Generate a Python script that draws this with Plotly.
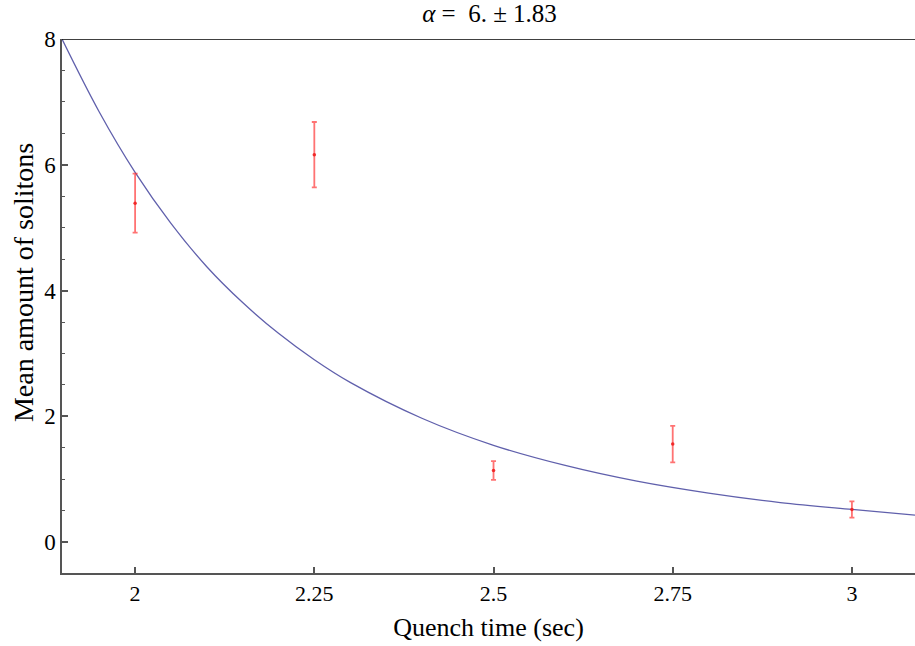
import plotly.graph_objects as go

# Measured data (mean amount of solitons vs quench time)
quench_time = [2.0, 2.25, 2.5, 2.75, 3.0]
mean_solitons = [5.39, 6.16, 1.14, 1.56, 0.52]
err_plus = [0.47, 0.52, 0.15, 0.29, 0.13]

# Fitted curve, values
fit_x = [1.898, 1.95, 2.0, 2.05, 2.1, 2.15, 2.2, 2.25, 2.3, 2.4, 2.5, 2.6, 2.7, 2.8, 2.9, 3.0, 3.088]
fit_y = [8.0, 6.84, 5.88, 5.07, 4.38, 3.81, 3.32, 2.90, 2.54, 1.97, 1.54, 1.22, 0.97, 0.78, 0.63, 0.52, 0.43]

x_ticks = [2, 2.25, 2.5, 2.75, 3]
x_tick_labels = ["2", "2.25", "2.5", "2.75", "3"]
y_ticks = [0, 2, 4, 6, 8]
y_tick_labels = ["0", "2", "4", "6", "8"]

title_text = "<i>α</i> =\u00a0\u00a06. ± 1.83"
x_title = "Quench time (sec)"
y_title = "Mean amount of solitons"

font_family = "Liberation Serif, Times New Roman, serif"

fig = go.Figure()

fig.add_trace(go.Scatter(
    x=fit_x, y=fit_y, mode="lines", line=dict(color="rgb(96,96,172)", width=1.3, shape="spline"),
    showlegend=False, hoverinfo="skip",
))

fig.add_trace(go.Scatter(
    x=quench_time, y=mean_solitons, mode="markers",
    marker=dict(color="rgba(240,30,30,0.9)", size=3.5),
    error_y=dict(type="data", array=err_plus, visible=True,
                 color="rgba(255,40,40,0.65)", thickness=1.8, width=2.5),
    showlegend=False,
))

fig.add_shape(type="line", xref="paper", x0=0, x1=1, yref="y", y0=8, y1=8,
              line=dict(color="black", width=1.5), layer="above")

fig.add_annotation(text=y_title, textangle=-90, xref="paper", yref="paper",
                   x=-0.0457, y=0.543, xanchor="center", yanchor="middle",
                   showarrow=False, font=dict(family=font_family, size=28, color="black"))

fig.update_layout(
    width=915, height=646,
    margin=dict(l=62, r=0, t=39, b=73),
    plot_bgcolor="white", paper_bgcolor="white",
    font=dict(family=font_family, size=22, color="black"),
    title=dict(text=title_text, x=0.535, xanchor="center", xref="container",
               y=1.0, yref="container", yanchor="top", pad=dict(t=4),
               font=dict(family=font_family, size=25, color="black")),
    xaxis=dict(
        range=[1.898, 3.088], tickvals=x_ticks, ticktext=x_tick_labels,
        ticks="inside", ticklen=6, tickwidth=1.5, tickcolor="#555",
        showline=True, linecolor="#555", linewidth=1.5,
        showgrid=False, zeroline=False,
        title=dict(text=x_title, standoff=13, font=dict(size=26)),
        tickfont=dict(size=22),
    ),
    yaxis=dict(
        range=[-0.49, 8.0], tickvals=y_ticks, ticktext=y_tick_labels,
        ticks="inside", ticklen=6, tickwidth=1.5, tickcolor="#555",
        minor=dict(ticks="inside", dtick=0.5, tick0=0, ticklen=3, tickwidth=1, tickcolor="#555"),
        showline=True, linecolor="#555", linewidth=1.5,
        showgrid=False, zeroline=False,
        tickfont=dict(size=23),
    ),
)

fig.write_html(
    "out.html",
    config={"displayModeBar": False},
    post_script="document.body.style.margin='0';document.body.style.overflow='hidden';",
)
